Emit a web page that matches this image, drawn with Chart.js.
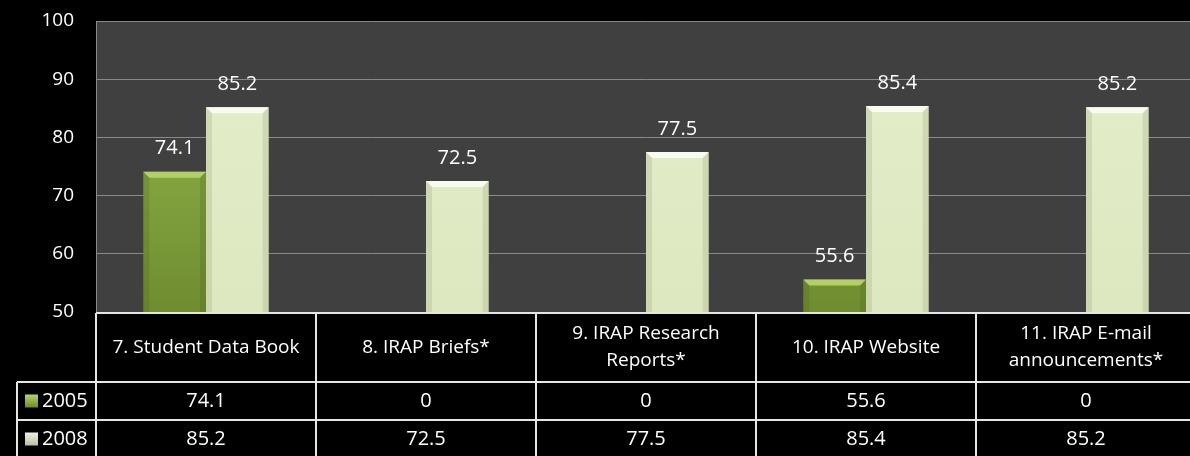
<!DOCTYPE html>
<html>
<head>
<meta charset="utf-8">
<script src="https://cdn.jsdelivr.net/npm/chart.js@4"></script>
<style>
  html, body { margin: 0; padding: 0; background: #000; overflow: hidden; }
  #wrap { width: 1200px; height: 456px; }
</style>
</head>
<body>
<div id="wrap"><canvas id="myChart" width="1200" height="456"></canvas></div>
<script>
// chart data
const categories = [
  ['7. Student Data Book'],
  ['8. IRAP Briefs*'],
  ['9. IRAP Research', 'Reports*'],
  ['10. IRAP Website'],
  ['11. IRAP E-mail', 'announcements*']
];
const seriesNames = ['2005', '2008'];
const values2005 = [74.1, 0, 0, 55.6, 0];
const values2008 = [85.2, 72.5, 77.5, 85.4, 85.2];
const yTicks = [50, 60, 70, 80, 90, 100];

const FONT = '"Open Sans", "DejaVu Sans", sans-serif';

function barFill(ctx, top, bottom) {
  const chart = ctx.chart;
  const area = chart.chartArea;
  if (!area) return top;
  const g = chart.ctx.createLinearGradient(0, area.top, 0, area.bottom);
  g.addColorStop(0, top);
  g.addColorStop(1, bottom);
  return g;
}

// plot background
const plotBg = {
  id: 'plotBg',
  beforeDraw(chart) {
    const { ctx, chartArea: a } = chart;
    ctx.save();
    ctx.fillStyle = '#404040';
    ctx.fillRect(a.left, a.top, a.right - a.left, a.bottom - a.top);
    ctx.restore();
  }
};

// bevel look on top of bars + value labels
const bevel = {
  id: 'bevel',
  afterDatasetsDraw(chart) {
    const { ctx, chartArea: a } = chart;
    const yScale = chart.scales.y;
    ctx.save();
    ctx.beginPath();
    ctx.rect(a.left, a.top, a.right - a.left, a.bottom - a.top);
    ctx.clip();
    chart.data.datasets.forEach((ds, di) => {
      const meta = chart.getDatasetMeta(di);
      meta.data.forEach((bar, i) => {
        if (ds.data[i] < yScale.min) return;
        const l = bar.x - bar.width / 2, r = bar.x + bar.width / 2;
        const t = bar.y, b = bar.base;
        const d = 6;
        // top bevel
        ctx.fillStyle = di === 0 ? '#b3d064' : '#f8fcee';
        ctx.beginPath();
        ctx.moveTo(l, t); ctx.lineTo(r, t); ctx.lineTo(r - d, t + d); ctx.lineTo(l + d, t + d);
        ctx.closePath(); ctx.fill();
        // side shading
        ctx.fillStyle = di === 0 ? 'rgba(60,80,20,0.18)' : 'rgba(120,135,90,0.18)';
        ctx.beginPath();
        ctx.moveTo(r, t); ctx.lineTo(r, b); ctx.lineTo(r - d, b - 2); ctx.lineTo(r - d, t + d);
        ctx.closePath(); ctx.fill();
        ctx.beginPath();
        ctx.moveTo(l, t); ctx.lineTo(l, b); ctx.lineTo(l + d, b - 2); ctx.lineTo(l + d, t + d);
        ctx.closePath(); ctx.fill();
      });
    });
    ctx.restore();

    ctx.save();
    ctx.fillStyle = '#ffffff';
    ctx.font = '20px ' + FONT;
    ctx.textAlign = 'center';
    ctx.textBaseline = 'middle';
    chart.data.datasets.forEach((ds, di) => {
      const meta = chart.getDatasetMeta(di);
      meta.data.forEach((bar, i) => {
        if (ds.data[i] < yScale.min) return;
        ctx.fillText(String(ds.data[i]), bar.x, bar.y - 23);
      });
    });
    ctx.restore();
  }
};

// data table under the plot
const dataTable = {
  id: 'dataTable',
  afterDraw(chart) {
    const { ctx, chartArea: a } = chart;
    const n = categories.length;
    const w = (a.right - a.left) / n;
    const top = a.bottom + 1;
    const headBottom = top + 69;
    const rowH = 38;
    const rows = [values2005, values2008];
    const legendLeft = 17;

    ctx.save();
    ctx.strokeStyle = '#e6e6e6';
    ctx.lineWidth = 2;
    ctx.beginPath();
    ctx.moveTo(a.left, top); ctx.lineTo(a.right, top);
    for (let r = 0; r <= rows.length; r++) {
      const y = headBottom + r * rowH;
      ctx.moveTo(legendLeft, y); ctx.lineTo(a.right, y);
    }
    for (let c = 0; c <= n; c++) {
      const x = a.left + c * w;
      ctx.moveTo(x, top); ctx.lineTo(x, headBottom + rows.length * rowH + 4);
    }
    ctx.moveTo(legendLeft, headBottom); ctx.lineTo(legendLeft, headBottom + rows.length * rowH + 4);
    ctx.stroke();

    ctx.fillStyle = '#ffffff';
    ctx.textAlign = 'center';
    ctx.textBaseline = 'middle';
    ctx.font = '19px ' + FONT;
    categories.forEach((lines, c) => {
      const cx = a.left + c * w + w / 2;
      const cy = (top + headBottom) / 2;
      const lh = 27;
      lines.forEach((s, k) => {
        ctx.fillText(s, cx, cy + (k - (lines.length - 1) / 2) * lh);
      });
    });
    ctx.font = '20px ' + FONT;
    rows.forEach((vals, r) => {
      const cy = headBottom + r * rowH + rowH / 2;
      vals.forEach((v, c) => {
        ctx.fillText(String(v), a.left + c * w + w / 2, cy);
      });
      const sq = 13;
      const g = ctx.createLinearGradient(0, cy - sq / 2, 0, cy + sq / 2);
      if (r === 0) { g.addColorStop(0, '#b7d46a'); g.addColorStop(1, '#6e8c30'); }
      else { g.addColorStop(0, '#eef2e0'); g.addColorStop(1, '#b8c0a6'); }
      ctx.fillStyle = g;
      ctx.fillRect(25, cy - sq / 2, sq, sq);
      ctx.fillStyle = '#ffffff';
      ctx.textAlign = 'left';
      ctx.fillText(seriesNames[r], 42, cy);
      ctx.textAlign = 'center';
    });
    ctx.restore();
  }
};

const chart = new Chart(document.getElementById('myChart'), {
  type: 'bar',
  data: {
    labels: categories,
    datasets: [
      {
        label: seriesNames[0],
        data: values2005,
        backgroundColor: (c) => barFill(c, '#99bb52', '#6f8d30'),
        borderWidth: 0,
        categoryPercentage: 0.57,
        barPercentage: 1.0
      },
      {
        label: seriesNames[1],
        data: values2008,
        backgroundColor: (c) => barFill(c, '#e4eecb', '#dde8c0'),
        borderWidth: 0,
        categoryPercentage: 0.57,
        barPercentage: 1.0
      }
    ]
  },
  options: {
    responsive: false,
    animation: false,
    layout: { padding: { top: 21, bottom: 144, right: 4 } },
    plugins: { legend: { display: false }, tooltip: { enabled: false } },
    scales: {
      x: { display: false },
      y: {
        min: yTicks[0],
        max: yTicks[yTicks.length - 1],
        afterFit(scale) {
          scale.width = 96;
          scale.paddingTop = 0;
          scale.paddingBottom = 0;
        },
        afterBuildTicks(scale) { scale.ticks = yTicks.map(v => ({ value: v })); },
        grid: { color: '#8a8a8a', lineWidth: 1, drawTicks: false },
        border: { color: '#8a8a8a', width: 1 },
        ticks: { color: '#ffffff', padding: 22, font: { family: FONT, size: 19 } }
      }
    }
  },
  plugins: [plotBg, bevel, dataTable]
});
</script>
</body>
</html>
